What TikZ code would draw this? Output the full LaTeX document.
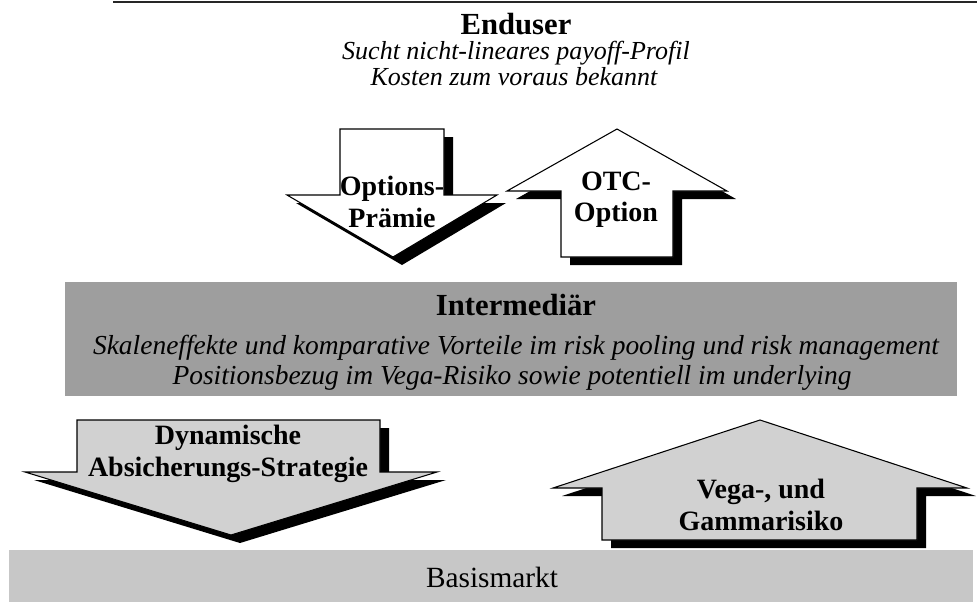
\documentclass[tikz,border=0pt]{standalone}
\usepackage{fontspec}
\setmainfont{Liberation Serif}

\begin{document}
\begin{tikzpicture}[x=0.75pt, y=-0.75pt,
    arrshadow/.style={fill=black, draw=none, shift={(9,8)}},
    plainarrow/.style={fill=white, draw=black, line width=0.8pt},
    greyarrow/.style={fill=black!18, draw=black, line width=0.8pt},
    headline/.style={inner sep=0pt, font=\bfseries\fontsize{23}{26}\selectfont},
    remark/.style={inner sep=0pt, font=\itshape\fontsize{19.5}{22}\selectfont},
    bandremark/.style={inner sep=0pt, font=\itshape\fontsize{20.6}{23}\selectfont},
    arrlabel/.style={inner sep=0pt, align=center, font=\bfseries\fontsize{21}{23.5}\selectfont},
    basetext/.style={inner sep=0pt, font=\fontsize{22}{25}\selectfont}]
  \useasboundingbox (0,0) rectangle (977,608);

  % top rule
  \draw[line width=1pt, black!85] (113,2) -- (977,2);

  % end user
  \node[headline] (enduser) at (516,24) {Enduser};
  \node[remark] (suchprofil) at (516,53) {Sucht nicht-lineares payoff-Profil};
  \node[remark] (kosten) at (514,77) {Kosten zum voraus bekannt};

  % upper arrows
  \foreach \s in {arrshadow, plainarrow}
    \draw[\s] (340,129) -- (444,129) -- (444,195) -- (497,195) -- (393,257)
      -- (287,195) -- (340,195) -- cycle;
  \foreach \s in {arrshadow, plainarrow}
    \draw[\s] (617,129) -- (727,191) -- (673,191) -- (673,257) -- (561,257)
      -- (561,191) -- (507,191) -- cycle;
  \node[arrlabel] (praemie) at (392,202) {Options-\\Prämie};
  \node[arrlabel] (otc) at (616,200) {OTC-\\Option};

  % intermediary band
  \fill[black!38] (65,282) rectangle (957,396);
  \node[headline] (intermediaer) at (516,305) {Intermediär};
  \node[bandremark] (skalen) at (516,348)
    {Skaleneffekte und komparative Vorteile im risk pooling und risk management};
  \node[bandremark] (position) at (512,378)
    {Positionsbezug im Vega-Risiko sowie potentiell im underlying};

  % lower arrows
  \foreach \s in {arrshadow, greyarrow}
    \draw[\s] (77,420) -- (380,420) -- (380,472) -- (437,472) -- (231,535)
      -- (25,472) -- (77,472) -- cycle;
  \foreach \s in {arrshadow, greyarrow}
    \draw[\s] (760,420) -- (967,488) -- (917,488) -- (917,540) -- (602,540)
      -- (602,488) -- (553,488) -- cycle;
  \node[arrlabel] (strategie) at (228,454) {Dynamische\\Absicherungs-Strategie};
  \node[arrlabel] (risiko) at (761,505) {Vega-, und\\Gammarisiko};

  % base market band
  \fill[black!22] (9,550) rectangle (973,602);
  \node[basetext] (basismarkt) at (492,577) {Basismarkt};
\end{tikzpicture}
\end{document}
